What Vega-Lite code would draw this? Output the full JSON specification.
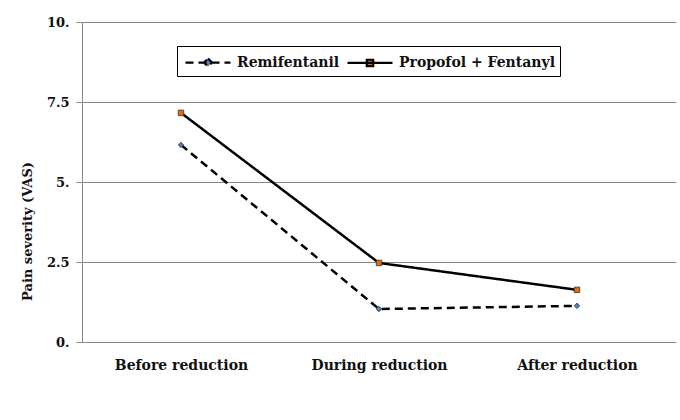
{
  "$schema": "https://vega.github.io/schema/vega-lite/v6.json",
  "width": 594,
  "height": 320,
  "autosize": "none",
  "padding": {"left": 82, "top": 22, "right": 4, "bottom": 78},
  "background": "white",
  "config": {
    "view": {"stroke": null},
    "font": "DejaVu Serif"
  },
  "data": {
    "values": [
      {"stage": "Before reduction", "group": "Remifentanil", "value": 6.16},
      {"stage": "During reduction", "group": "Remifentanil", "value": 1.03},
      {"stage": "After reduction", "group": "Remifentanil", "value": 1.13},
      {"stage": "Before reduction", "group": "Propofol + Fentanyl", "value": 7.16},
      {"stage": "During reduction", "group": "Propofol + Fentanyl", "value": 2.47},
      {"stage": "After reduction", "group": "Propofol + Fentanyl", "value": 1.63}
    ]
  },
  "encoding": {
    "x": {
      "field": "stage",
      "type": "nominal",
      "sort": ["Before reduction", "During reduction", "After reduction"],
      "axis": {
        "title": null,
        "labelAngle": 0,
        "labelFont": "DejaVu Serif",
        "labelFontSize": 14,
        "labelFontWeight": "bold",
        "labelColor": "#111",
        "labelPadding": 16,
        "ticks": false,
        "domain": false
      }
    },
    "y": {
      "field": "value",
      "type": "quantitative",
      "scale": {"domain": [0, 10]},
      "axis": {
        "values": [0, 2.5, 5, 7.5, 10],
        "labelExpr": "datum.value % 1 === 0 ? format(datum.value, 'd') + '.' : format(datum.value, '.1f')",
        "title": "Pain severity (VAS)",
        "titleFont": "DejaVu Serif",
        "titleFontSize": 13,
        "titleFontWeight": "bold",
        "titleColor": "#111",
        "titlePadding": 12,
        "titleY": 209,
        "labelFont": "DejaVu Serif",
        "labelFontSize": 13,
        "labelFontWeight": "bold",
        "labelColor": "#111",
        "labelPadding": 7,
        "domainColor": "#888",
        "tickColor": "#888",
        "tickSize": 6,
        "gridColor": "#888",
        "gridOpacity": 1,
        "gridWidth": 1
      }
    }
  },
  "resolve": {
    "scale": {"shape": "independent", "color": "independent", "strokeDash": "independent"},
    "legend": {"shape": "independent", "color": "independent", "strokeDash": "independent"}
  },
  "layer": [
    {
      "mark": {"type": "line", "color": "black", "strokeWidth": 2.5},
      "encoding": {
        "strokeDash": {
          "field": "group",
          "type": "nominal",
          "scale": {"domain": ["Remifentanil", "Propofol + Fentanyl"], "range": [[8, 5], [1, 0]]},
          "legend": {
            "orient": "none",
            "legendX": 95,
            "legendY": 24,
            "direction": "horizontal",
            "title": null,
            "strokeColor": "black",
            "fillColor": "white",
            "padding": 5,
            "labelFont": "DejaVu Serif",
            "labelFontSize": 14,
            "labelFontWeight": "bold",
            "labelColor": "#111",
            "symbolSize": 400,
            "symbolOffset": 14.5,
            "labelOffset": 17.5,
            "columnPadding": 3,
            "symbolType": {"expr": "datum.value === 'Remifentanil' ? 'M-2.25,0H2.25M0,-0.4L0.4,0L0,0.4L-0.4,0Z' : 'M-2.25,0H2.25M-0.32,-0.32H0.32V0.32H-0.32Z'"},
            "symbolFillColor": {"expr": "datum.value === 'Remifentanil' ? '#4f81bd' : '#e46c0a'"},
            "symbolStrokeColor": "black",
            "symbolStrokeWidth": 2.2,
            "symbolOpacity": 1,
            "encode": {
              "symbols": {
                "update": {
                  "fill": {"signal": "datum.value === 'Remifentanil' ? '#4f81bd' : '#e46c0a'"},
                  "fillOpacity": {"value": 1},
                  "stroke": {"value": "black"},
                  "strokeWidth": {"value": 2.2},
                  "strokeOpacity": {"value": 1},
                  "opacity": {"value": 1},
                  "strokeDash": {"signal": "datum.value === 'Remifentanil' ? [8, 5] : [1, 0]"}
                }
              }
            }
          }
        }
      }
    },
    {
      "mark": {"type": "point", "filled": true, "size": 30, "stroke": "#333", "strokeWidth": 0.8, "opacity": 1},
      "encoding": {
        "shape": {
          "field": "group",
          "type": "nominal",
          "scale": {"domain": ["Remifentanil", "Propofol + Fentanyl"], "range": ["diamond", "square"]},
          "legend": null
        },
        "color": {
          "field": "group",
          "type": "nominal",
          "scale": {"domain": ["Remifentanil", "Propofol + Fentanyl"], "range": ["#4f81bd", "#e46c0a"]},
          "legend": null
        }
      }
    }
  ]
}
